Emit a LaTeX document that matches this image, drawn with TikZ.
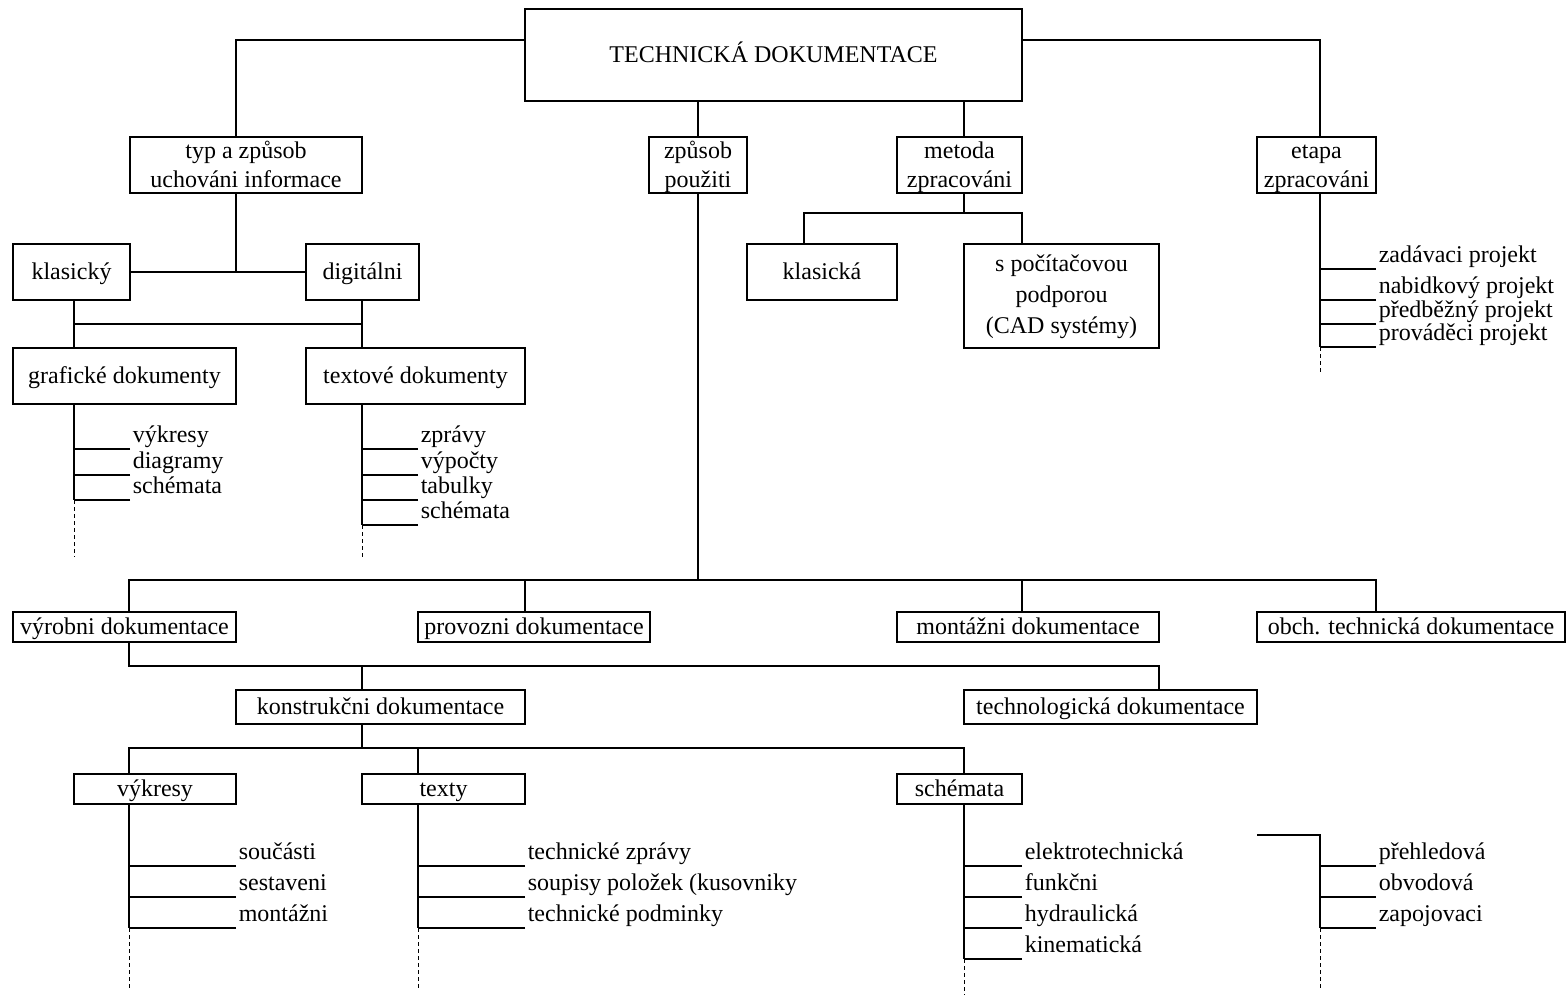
\documentclass[tikz,border=0pt]{standalone}
\usepackage{fontspec}
\setmainfont{Liberation Serif}

\begin{document}
\begin{tikzpicture}[x=0.5pt,y=-0.5pt,line width=0.8pt,
	box/.style 2 args={draw,inner sep=0pt,minimum width=#1*0.5pt,minimum height=#2*0.5pt,align=center,
		font=\fontsize{12}{15.5}\selectfont,text height=9pt,text depth=2pt},
	twoline/.style={font=\fontsize{12}{14.5}\selectfont,text height=24pt,text depth=2pt},
	threeline/.style={text height=40pt,text depth=3pt},
	item/.style={anchor=south west,inner sep=1pt,text depth=2pt,font=\fontsize{12}{15.5}\selectfont},
	more/.style={line width=0.5pt,dash pattern=on 2pt off 1.5pt}]
	\useasboundingbox (0,0) rectangle (1566,997);

	% boxes
	\node[box={497}{92}] (top) at (773.5,55) {TECHNICKÁ DOKUMENTACE};
	\node[box={232}{56},twoline] (typ) at (246,165) {typ a způsob\\uchováni informace};
	\node[box={98}{56},twoline] (zpusob) at (698,165) {způsob\\použiti};
	\node[box={125}{56},twoline] (metoda) at (959.5,165) {metoda\\zpracováni};
	\node[box={119}{56},twoline] (etapa) at (1316.5,165) {etapa\\zpracováni};
	\node[box={117}{56}] (klasicky) at (71.5,272) {klasický};
	\node[box={113}{56}] (digitalni) at (362.5,272) {digitálni};
	\node[box={223}{56}] (graf) at (124.5,376) {grafické dokumenty};
	\node[box={219}{56}] (textove) at (415.5,376) {textové dokumenty};
	\node[box={150}{56}] (klasicka) at (822,272) {klasická};
	\node[box={195}{104},threeline] (cad) at (1061.5,296) {s počítačovou\\podporou\\(CAD systémy)};
	\node[box={223}{30}] (vyrobni) at (124.5,627) {výrobni dokumentace};
	\node[box={232}{30}] (provozni) at (534,627) {provozni dokumentace};
	\node[box={262}{30}] (montazni) at (1028,627) {montážni dokumentace};
	\node[box={308}{30}] (obch) at (1411,627) {obch. technická dokumentace};
	\node[box={289}{34}] (konstr) at (380.5,707) {konstrukčni dokumentace};
	\node[box={293}{34}] (technol) at (1110.5,707) {technologická dokumentace};
	\node[box={162}{30}] (vykresy) at (155,789) {výkresy};
	\node[box={163}{30}] (texty) at (443.5,789) {texty};
	\node[box={125}{30}] (schemata) at (959.5,789) {schémata};

	% tree
	\draw (top.west |- 0,40) -| (typ.north -| 236,0);
	\draw (top.east |- 0,40) -| (etapa.north -| 1320,0);
	\draw (top.south -| zpusob.north) -- (zpusob.north);
	\draw (top.south -| 964,0) -- (metoda.north -| 964,0);
	\draw (typ.south -| 236,0) -- (236,272);
	\draw (klasicky.east) -- (digitalni.west);
	\draw (klasicky.south -| 74,0) -- (graf.north -| 74,0);
	\draw (digitalni.south -| 362,0) -- (textove.north -| 362,0);
	\draw (74,324) -- (362,324);
	\draw (metoda.south -| 964,0) -- (964,213);
	\draw (klasicka.north -| 804,0) -- (804,213) -| (cad.north -| 1022,0);
	\draw (zpusob.south) -- (zpusob.south |- 0,580);
	\draw (vyrobni.north -| 129,0) -- (129,580) -| (obch.north -| 1376,0);
	\draw (provozni.north -| 525,0) -- (525,580);
	\draw (montazni.north -| 1022,0) -- (1022,580);
	\draw (vyrobni.south -| 129,0) -- (129,666) -| (technol.north -| 1159,0);
	\draw (konstr.north -| 362,0) -- (362,666);
	\draw (konstr.south -| 362,0) -- (362,748);
	\draw (vykresy.north -| 129,0) -- (129,748) -| (schemata.north -| 964,0);
	\draw (texty.north -| 418,0) -- (418,748);

	% grafické dokumenty
	\node[item] (gr1) at (130,449) {výkresy};
	\node[item] (gr2) at (130,475) {diagramy};
	\node[item] (gr3) at (130,500) {schémata};
	\draw (graf.south -| 74,0) -- (gr3.south west -| 74,0);
	\draw[more] (gr3.south west -| 74,0) -- (74,557);
	\draw (gr1.south west) -- +(-56,0) (gr2.south west) -- +(-56,0) (gr3.south west) -- +(-56,0);

	% textové dokumenty
	\node[item] (tx1) at (418,449) {zprávy};
	\node[item] (tx2) at (418,475) {výpočty};
	\node[item] (tx3) at (418,500) {tabulky};
	\node[item] (tx4) at (418,525) {schémata};
	\draw (textove.south -| 362,0) -- (tx4.south west -| 362,0);
	\draw[more] (tx4.south west -| 362,0) -- (362,557);
	\draw (tx1.south west) -- +(-56,0) (tx2.south west) -- +(-56,0) (tx3.south west) -- +(-56,0) (tx4.south west) -- +(-56,0);

	% etapa zpracováni
	\node[item] (et1) at (1376,269) {zadávaci projekt};
	\node[item] (et2) at (1376,300) {nabidkový projekt};
	\node[item] (et3) at (1376,324) {předběžný projekt};
	\node[item] (et4) at (1376,347) {prováděci projekt};
	\draw (etapa.south -| 1320,0) -- (et4.south west -| 1320,0);
	\draw[more] (et4.south west -| 1320,0) -- (1320,373);
	\draw (et1.south west) -- +(-56,0) (et2.south west) -- +(-56,0) (et3.south west) -- +(-56,0) (et4.south west) -- +(-56,0);

	% výkresy
	\node[item] (vk1) at (236,866) {součásti};
	\node[item] (vk2) at (236,897) {sestaveni};
	\node[item] (vk3) at (236,928) {montážni};
	\draw (vykresy.south -| 129,0) -- (vk3.south west -| 129,0);
	\draw[more] (vk3.south west -| 129,0) -- (129,990);
	\draw (vk1.south west) -- +(-107,0) (vk2.south west) -- +(-107,0) (vk3.south west) -- +(-107,0);

	% texty
	\node[item] (te1) at (525,866) {technické zprávy};
	\node[item] (te2) at (525,897) {soupisy položek (kusovniky};
	\node[item] (te3) at (525,928) {technické podminky};
	\draw (texty.south -| 418,0) -- (te3.south west -| 418,0);
	\draw[more] (te3.south west -| 418,0) -- (418,990);
	\draw (te1.south west) -- +(-107,0) (te2.south west) -- +(-107,0) (te3.south west) -- +(-107,0);

	% schémata
	\node[item] (sc1) at (1022,866) {elektrotechnická};
	\node[item] (sc2) at (1022,897) {funkčni};
	\node[item] (sc3) at (1022,928) {hydraulická};
	\node[item] (sc4) at (1022,959) {kinematická};
	\draw (schemata.south -| 964,0) -- (sc4.south west -| 964,0);
	\draw[more] (sc4.south west -| 964,0) -- (964,995);
	\draw (sc1.south west) -- +(-58,0) (sc2.south west) -- +(-58,0) (sc3.south west) -- +(-58,0) (sc4.south west) -- +(-58,0);

	% elektrotechnická schémata
	\coordinate (el) at (1257,835);
	\node[item] (el1) at (1376,866) {přehledová};
	\node[item] (el2) at (1376,897) {obvodová};
	\node[item] (el3) at (1376,928) {zapojovaci};
	\draw (el) -| (el3.south west -| 1320,0);
	\draw[more] (el3.south west -| 1320,0) -- (1320,990);
	\draw (el1.south west) -- +(-56,0) (el2.south west) -- +(-56,0) (el3.south west) -- +(-56,0);
\end{tikzpicture}
\end{document}
